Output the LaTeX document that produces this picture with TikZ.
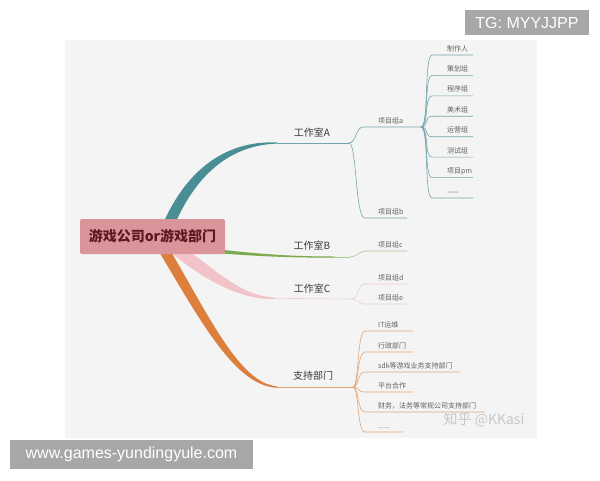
\documentclass[tikz,border=0pt]{standalone}
\usepackage{fontspec}
\setmainfont{Noto Sans CJK SC}
\newfontfamily\wmfont{Liberation Sans}
\usetikzlibrary{positioning}

\definecolor{paper}{HTML}{F4F4F4}
\definecolor{rootpink}{HTML}{D9959A}
\definecolor{roottext}{HTML}{5C1A1E}
\definecolor{bandA}{HTML}{4A8E95}
\definecolor{lineA}{HTML}{72A5AA}
\definecolor{bandB}{HTML}{7BAA4F}
\definecolor{lineB}{HTML}{AAC78E}
\definecolor{bandC}{HTML}{F2C4CA}
\definecolor{lineC}{HTML}{EECDD1}
\definecolor{bandD}{HTML}{DC7F3C}
\definecolor{lineD}{HTML}{DFA678}
\definecolor{wmgray}{HTML}{A7A7A7}

\newcommand\moredots{......}

\tikzset{
  root/.style={fill=rootpink, rounded corners=2pt, minimum width=145pt,
    minimum height=35pt, text=roottext, font=\fontsize{14}{16}\selectfont\bfseries},
  studio/.style={anchor=base, inner sep=0pt, text=black!78,
    font=\fontsize{10}{12}\selectfont},
  leaf/.style={anchor=base west, inner sep=0pt, text=black!62,
    font=\fontsize{7}{8}\selectfont},
  twig/.style={line width=0.6pt},
  wmark/.style={fill=wmgray, text=white, inner sep=0pt,
    font=\wmfont\fontsize{16}{18}\selectfont},
}

\begin{document}
\begin{tikzpicture}[x=1pt,y=-1pt]
  \useasboundingbox (0,0) rectangle (600,480);
  \fill[white] (0,0) rectangle (600,480);
  \fill[paper] (65,40) rectangle (537,438);

  % tapered main branches
  \fill[bandA] (162,226) .. controls (188,165) and (230,140.5) .. (277,142.4)
       -- (277,143.6) .. controls (234,145) and (198,170) .. (174,226) -- cycle;
  \fill[bandB] (215,249) .. controls (260,254) and (290,256.5) .. (335,256.5)
       -- (335,257.5) .. controls (290,258) and (255,256) .. (215,253) -- cycle;
  \fill[bandC] (182,248) .. controls (205,258) and (235,296) .. (275,297.6)
       -- (275,299) .. controls (236,300) and (200,276) .. (170,252) -- cycle;
  \fill[bandD] (158,250) .. controls (200,320) and (235,386) .. (277,387.8)
       -- (277,386.4) .. controls (240,383) and (210,318) .. (170,250) -- cycle;

  \node[root] (root) at (152.5,236.5) {游戏公司or游戏部门};

  % studio A
  \coordinate (aend) at (277,143);
  \coordinate (pa) at (349,143);
  \draw[twig,lineA] (aend) -- (pa);
  \node[studio] (stuA) at (312,136) {工作室A};
  \coordinate (ga) at (363,127);
  \coordinate (gaend) at (421,127);
  \coordinate (gb) at (365,218);
  \coordinate (gbend) at (407,218);
  \draw[twig,lineA] (pa) .. controls +(7,0) and +(-7,0) .. (ga) -- (gaend);
  \draw[twig,lineA] (pa) .. controls +(8,0) and +(-10,0) .. (gb) -- (gbend);
  \node[leaf] (prjA) at (378,123) {项目组a};
  \node[leaf] (prjB) at (378,214) {项目组b};
  \foreach \t [count=\i] in {制作人,策划组,程序组,美术组,运营组,测试组,项目pm,——} {
    \pgfmathsetmacro\ly{55+20.43*(\i-1)}
    \coordinate (al\i) at (432,\ly);
    \coordinate (ar\i) at (473,\ly);
    \draw[twig,lineA] (gaend) .. controls +(8,0) and +(-8,0) .. (al\i) -- (ar\i);
    \node[leaf] (mem\i) at (447,\ly-4) {\t};
  }

  % studio B
  \coordinate (bend) at (335,257);
  \coordinate (pb) at (350,257);
  \draw[twig,lineB] (bend) -- (pb);
  \node[studio] (stuB) at (312,249) {工作室B};
  \coordinate (gc) at (366,251);
  \coordinate (gcend) at (407,251);
  \draw[twig,lineB] (pb) .. controls +(6,0) and +(-6,0) .. (gc) -- (gcend);
  \node[leaf] (prjC) at (378,247) {项目组c};

  % studio C
  \coordinate (cend) at (275,298.3);
  \coordinate (pc) at (352,299);
  \draw[twig,lineC] (cend) -- (pc);
  \node[studio] (stuC) at (312,292) {工作室C};
  \coordinate (gd) at (364,284);
  \coordinate (gdend) at (407,284);
  \coordinate (ge) at (364,304);
  \coordinate (geend) at (407,304);
  \draw[twig,lineC] (pc) .. controls +(6,0) and +(-6,0) .. (gd) -- (gdend);
  \draw[twig,lineC] (pc) .. controls +(6,0) and +(-6,0) .. (ge) -- (geend);
  \node[leaf] (prjD) at (378,280) {项目组d};
  \node[leaf] (prjE) at (378,300) {项目组e};

  % support
  \coordinate (dend) at (277,387);
  \coordinate (pd) at (353,387);
  \draw[twig,lineD] (dend) -- (pd);
  \node[studio] (supp) at (313,379) {支持部门};
  \foreach \t/\ly/\lx [count=\i] in {IT运维/331/413, 行政部门/352/413,
      sdk等游戏业务支持部门/372/460, 平台合作/392/413,
      财务，法务等常规公司支持部门/412/485, \moredots/432/403} {
    \coordinate (sl\i) at (365,\ly);
    \coordinate (sr\i) at (\lx,\ly);
    \draw[twig,lineD] (pd) .. controls +(6,0) and +(-8,0) .. (sl\i) -- (sr\i);
    \node[leaf] (sup\i) at (378,\ly-4) {\t};
  }

  % watermarks
  \node[text=black!22, font=\fontsize{14}{16}\selectfont, inner sep=0pt]
       (zhihu) at (484,420) {知乎 @KKasi};
  \node[wmark, minimum width=124pt, minimum height=25pt] (tg) at (527,22.5) {TG: MYYJJPP};
  \node[wmark, minimum width=243pt, minimum height=29pt] (site) at (131.5,454.5)
       {www.games-yundingyule.com};
\end{tikzpicture}
\end{document}
